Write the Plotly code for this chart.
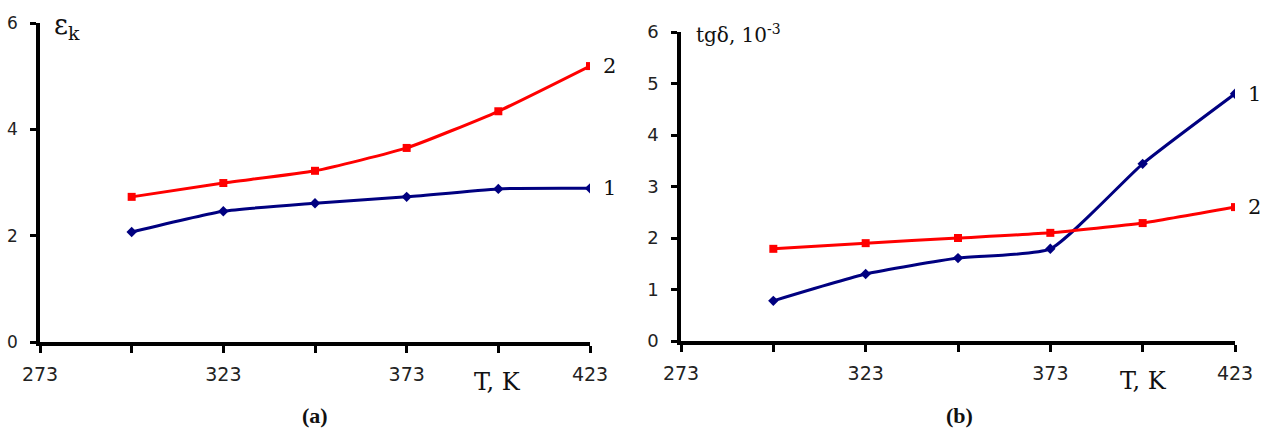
import plotly.graph_objects as go

W, H = 1261, 430

# Temperature points, K
temps = [298, 323, 348, 373, 398, 423]
tick_vals = [273, 323, 373, 423]
tick_text = ["273", "323", "373", "423"]

# (a) dielectric permittivity
eps_1 = [2.07, 2.46, 2.61, 2.73, 2.88, 2.89]
eps_2 = [2.73, 2.99, 3.22, 3.65, 4.34, 5.19]

# (b) loss tangent, x10^-3
tg_1 = [0.78, 1.30, 1.61, 1.79, 3.44, 4.80]
tg_2 = [1.79, 1.90, 2.00, 2.10, 2.29, 2.60]

BLUE = "#000080"
RED = "#FF0000"
SERIF = "DejaVu Serif"
SANS = "DejaVu Sans"


def px_x(p):
    return p / W


def px_y(p):
    return 1 - p / H


fig = go.Figure()

series = [
    ("x", "y", eps_1, BLUE, "diamond", "1"),
    ("x", "y", eps_2, RED, "square", "2"),
    ("x2", "y2", tg_1, BLUE, "diamond", "1"),
    ("x2", "y2", tg_2, RED, "square", "2"),
]
for xa, ya, vals, col, sym, lab in series:
    fig.add_trace(go.Scatter(
        x=temps, y=vals, xaxis=xa, yaxis=ya, mode="lines+markers",
        line=dict(color=col, width=3, shape="spline", smoothing=0.5),
        marker=dict(color=col, symbol=sym, size=8),
        showlegend=False, hoverinfo="skip",
    ))
    fig.add_annotation(
        x=temps[-1], y=vals[-1], xref=xa, yref=ya, text=lab,
        showarrow=False, xanchor="left", yanchor="middle", xshift=11,
        font=dict(family=SERIF, size=21, color="#111"),
    )

xcommon = dict(
    range=[273, 423], tickvals=tick_vals, ticktext=tick_text,
    ticks="outside", ticklen=7, tickwidth=3, tickcolor="black",
    minor=dict(ticks="outside", ticklen=7, tickwidth=3, tickcolor="black",
               tick0=273, dtick=25),
    showline=True, linecolor="black", linewidth=3.5, showgrid=False,
    zeroline=False, tickfont=dict(family=SANS, size=19, color="#222"),
    ticklabelstandoff=5, fixedrange=True, automargin=False,
)
ycommon = dict(
    range=[0, 6], ticks="outside", ticklen=6, tickwidth=3, tickcolor="black",
    showline=True, linecolor="black", linewidth=3.5, showgrid=False,
    zeroline=False, ticklabelstandoff=9, fixedrange=True, automargin=False,
)

fig.update_layout(
    template="none",
    width=W, height=H, margin=dict(l=0, r=0, t=0, b=0),
    paper_bgcolor="white", plot_bgcolor="white",
    xaxis=dict(domain=[px_x(40), px_x(590)], anchor="y", **xcommon),
    yaxis=dict(domain=[px_y(342), px_y(23)], anchor="x", dtick=2,
               tickfont=dict(family=SANS, size=17, color="#222"), **ycommon),
    xaxis2=dict(domain=[px_x(681), px_x(1235)], anchor="y2", **xcommon),
    yaxis2=dict(domain=[px_y(341), px_y(32)], anchor="x2", dtick=1,
                tickfont=dict(family=SANS, size=18, color="#222"), **ycommon),
)

texts = [
    (52, 27, "ε<sub>k</sub>", SERIF, 27, "left", False),
    (694, 34, "tgδ, 10<sup>-3</sup>", SERIF, 20, "left", False),
    (497, 382, "T, K", SERIF, 24, "center", False),
    (1143, 381, "T, K", SERIF, 24, "center", False),
    (315, 415, "(a)", "Liberation Serif", 22, "center", True),
    (959, 415, "(b)", "Liberation Serif", 22, "center", True),
]
for x, y, t, fam, sz, anc, bold in texts:
    fig.add_annotation(
        x=px_x(x), y=px_y(y), xref="paper", yref="paper",
        text=f"<b>{t}</b>" if bold else t, showarrow=False,
        xanchor=anc, yanchor="middle",
        font=dict(family=fam, size=sz, color="#111"),
    )

fig.write_html("out.html")
